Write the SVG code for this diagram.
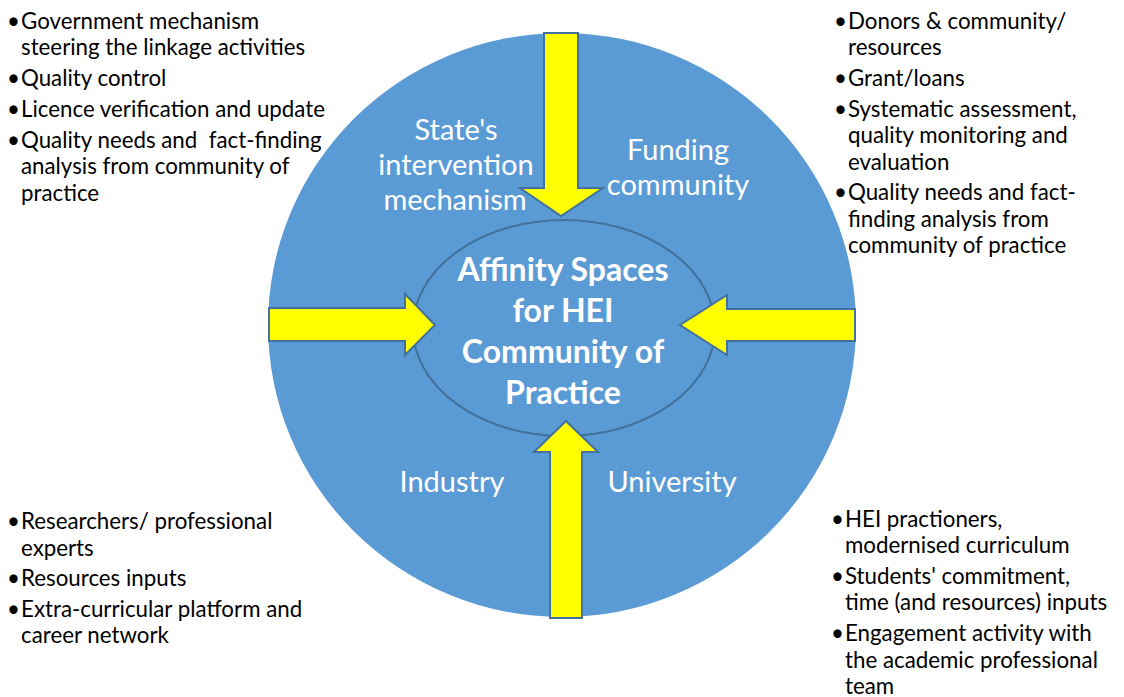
<svg xmlns="http://www.w3.org/2000/svg" width="1124" height="697" viewBox="0 0 1124 697">
  <style>
    .list { font-family: Lato, "Open Sans", sans-serif; font-size: 22.3px; fill: #000; }
    .label { font-family: Lato, "Open Sans", sans-serif; font-size: 29px; fill: #fff; text-anchor: middle; }
    .core { font-family: Lato, "Open Sans", sans-serif; font-size: 32px; font-weight: bold; fill: #fff; text-anchor: middle; }
    .arrow { fill: #FFFF00; stroke: #41719C; stroke-width: 2; stroke-linejoin: miter; }
  </style>
  <rect width="1124" height="697" fill="#fff"/>

  <!-- outer circle -->
  <g id="outer-circle">
    <ellipse cx="562" cy="325" rx="294" ry="292" fill="#5B9BD5"/>
    <text class="label" x="456" y="140">State's</text>
    <text class="label" x="456" y="175">intervention</text>
    <text class="label" x="455" y="210">mechanism</text>
    <text class="label" x="678" y="160">Funding</text>
    <text class="label" x="678" y="195">community</text>
    <text class="label" x="452" y="492">Industry</text>
    <text class="label" x="672" y="492">University</text>
  </g>

  <!-- central ellipse -->
  <g id="core">
    <ellipse cx="564" cy="328" rx="151" ry="108" fill="#5B9BD5" stroke="#41719C" stroke-width="2"/>
    <text class="core" x="563" y="281">Affinity Spaces</text>
    <text class="core" x="563" y="322">for HEI</text>
    <text class="core" x="563" y="363">Community of</text>
    <text class="core" x="563" y="404">Practice</text>
  </g>

  <!-- block arrows pointing into the core -->
  <g id="connectors">
    <polygon class="arrow" points="544,33 578,33 578,188 603,188 561,216 520,188 544,188"/>
    <polygon class="arrow" points="269,308 405,308 405,294 435,325 405,355 405,341 269,341"/>
    <polygon class="arrow" points="855,309 727,309 727,295 680,325 727,355 727,341 855,341"/>
    <polygon class="arrow" points="550,618 582,618 582,452 598,452 566,421 534,452 550,452"/>
  </g>

  <!-- state list -->
  <g id="state-list" class="list">
    <text x="7" y="29">•</text><text x="21" y="29">Government mechanism</text>
    <text x="21" y="55">steering the linkage activities</text>
    <text x="7" y="86">•</text><text x="21" y="86">Quality control</text>
    <text x="7" y="117">•</text><text x="21" y="117">Licence verification and update</text>
    <text x="7" y="148">•</text><text x="21" y="148" xml:space="preserve">Quality needs and  fact-finding</text>
    <text x="21" y="174">analysis from community of</text>
    <text x="21" y="201">practice</text>
  </g>

  <!-- funding list -->
  <g id="funding-list" class="list">
    <text x="834" y="29">•</text><text x="848" y="29">Donors &amp; community/</text>
    <text x="848" y="55">resources</text>
    <text x="834" y="86">•</text><text x="848" y="86">Grant/loans</text>
    <text x="834" y="117">•</text><text x="848" y="117">Systematic assessment,</text>
    <text x="848" y="143">quality monitoring and</text>
    <text x="848" y="170">evaluation</text>
    <text x="834" y="200">•</text><text x="848" y="200">Quality needs and fact-</text>
    <text x="848" y="227">finding analysis from</text>
    <text x="848" y="253">community of practice</text>
  </g>

  <!-- industry list -->
  <g id="industry-list" class="list">
    <text x="7" y="529">•</text><text x="21" y="529">Researchers/ professional</text>
    <text x="21" y="556">experts</text>
    <text x="7" y="586">•</text><text x="21" y="586">Resources inputs</text>
    <text x="7" y="617">•</text><text x="21" y="617">Extra-curricular platform and</text>
    <text x="21" y="643">career network</text>
  </g>

  <!-- university list -->
  <g id="university-list" class="list">
    <text x="831" y="527">•</text><text x="845" y="527">HEI practioners,</text>
    <text x="845" y="553">modernised curriculum</text>
    <text x="831" y="584">•</text><text x="845" y="584">Students' commitment,</text>
    <text x="845" y="610">time (and resources) inputs</text>
    <text x="831" y="641">•</text><text x="845" y="641">Engagement activity with</text>
    <text x="845" y="668">the academic professional</text>
    <text x="845" y="694">team</text>
  </g>
</svg>
